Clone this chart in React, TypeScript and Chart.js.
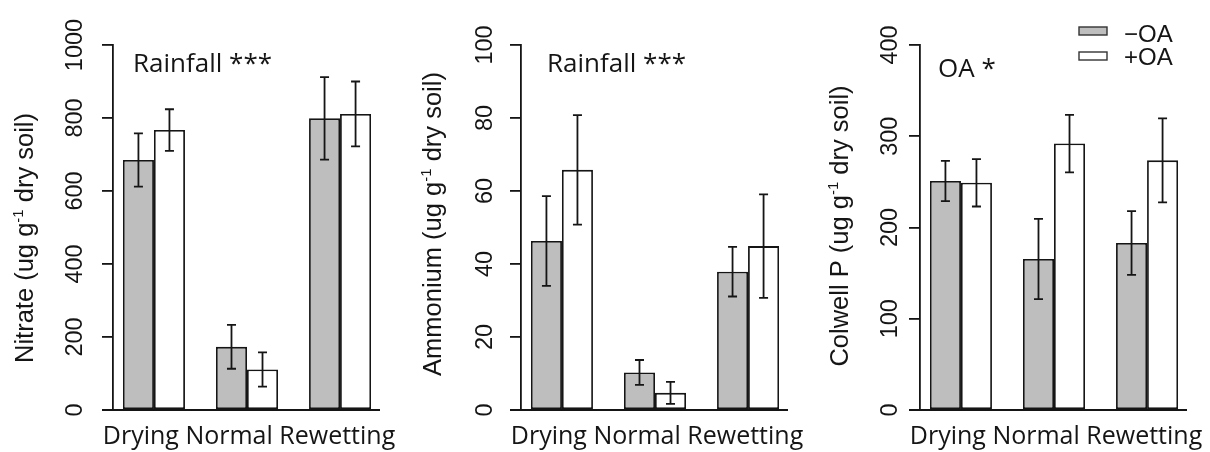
import React, { useEffect, useRef } from "react";
import { Chart, registerables } from "chart.js";

Chart.register(...registerables);

// ---------- data ----------
const categories = ["Drying", "Normal", "Rewetting"];
const seriesLabels = ["\u2212OA", "+OA"];

const nitrateMinusOA = [685, 173, 799];
const nitrateMinusOAErr = [73, 60, 113];
const nitratePlusOA = [767, 111, 811];
const nitratePlusOAErr = [57, 47, 89];

const ammoniumMinusOA = [46.3, 10.3, 37.9];
const ammoniumMinusOAErr = [12.3, 3.4, 6.8];
const ammoniumPlusOA = [65.8, 4.7, 44.9];
const ammoniumPlusOAErr = [15, 3, 14.2];

const colwellMinusOA = [251, 165.5, 183];
const colwellMinusOAErr = [22, 44, 35];
const colwellPlusOA = [249, 292, 273.6];
const colwellPlusOAErr = [26, 31.5, 46];

const yTitles = ["Nitrate", "Ammonium", "Colwell P"];
const unitPre = " (ug g";
const unitSup = "-1";
const unitPost = " dry soil)";
const notes = ["Rainfall ***", "Rainfall ***", "OA *"];
const yMaxes = [1000, 100, 400];
const ySteps = [200, 20, 100];

// ---------- layout / style ----------
const W = 1210;
const H = 452;
const PLOT_TOP = 45;
const PLOT_BOTTOM = 410;
const layouts = [
  { plotLeft: 113, plotRight: 381, tickLabelX: 82, titleX: 33, titleCY: 238, noteX: 133, noteY: 72 },
  { plotLeft: 521, plotRight: 789, tickLabelX: 492, titleX: 441, titleCY: 224, noteX: 547, noteY: 72 },
  { plotLeft: 920, plotRight: 1188, tickLabelX: 897, titleX: 848, titleCY: 226, noteX: 938, noteY: 77 },
];
const INK = "#151515";
const GRAY = "#bebebe";
const LINE_W = 1.8;
const TICK_FONT = '23.5px "Liberation Sans", Arial, sans-serif';
const TITLE_FONT = '25.5px "Liberation Sans", Arial, sans-serif';
const SUP_FONT = '15px "Liberation Sans", Arial, sans-serif';
const CAT_FONT = '25px "Open Sans", sans-serif';
const NOTE_FONT = '26px "Open Sans", sans-serif';
const LEGEND_FONT = '24px "Liberation Sans", Arial, sans-serif';

const panels = [
  { minus: nitrateMinusOA, minusErr: nitrateMinusOAErr, plus: nitratePlusOA, plusErr: nitratePlusOAErr },
  { minus: ammoniumMinusOA, minusErr: ammoniumMinusOAErr, plus: ammoniumPlusOA, plusErr: ammoniumPlusOAErr },
  { minus: colwellMinusOA, minusErr: colwellMinusOAErr, plus: colwellPlusOA, plusErr: colwellPlusOAErr },
];

// R barplot(beside=TRUE) geometry: bars of width 1, one unit gap before each group
const groupCenter = (i: number) => 2 + 3 * i;

function makeDecor(pi: number) {
  const L = layouts[pi];
  return {
    id: "decor" + pi,
    afterDatasetsDraw(chart: any) {
      const ctx = chart.ctx;
      const ys = chart.scales.y;
      const ca = chart.chartArea;
      ctx.save();
      // error bars
      ctx.strokeStyle = INK;
      ctx.lineWidth = LINE_W;
      chart.data.datasets.forEach((ds: any, di: number) => {
        const meta = chart.getDatasetMeta(di);
        meta.data.forEach((bar: any, i: number) => {
          const v = ds.data[i].y;
          const e = ds.errors[i];
          const t = ys.getPixelForValue(v + e);
          const b = ys.getPixelForValue(v - e);
          ctx.beginPath();
          ctx.moveTo(bar.x, t);
          ctx.lineTo(bar.x, b);
          ctx.moveTo(bar.x - 4.5, t);
          ctx.lineTo(bar.x + 4.5, t);
          ctx.moveTo(bar.x - 4.5, b);
          ctx.lineTo(bar.x + 4.5, b);
          ctx.stroke();
        });
      });
      // bottom line
      const y0 = ys.getPixelForValue(0);
      ctx.beginPath();
      ctx.moveTo(ca.left - 11, y0);
      ctx.lineTo(ca.right - 1, y0);
      ctx.stroke();
      ctx.restore();
    },
    afterDraw(chart: any) {
      const ctx = chart.ctx;
      const ys = chart.scales.y;
      const ca = chart.chartArea;
      ctx.save();
      ctx.fillStyle = INK;
      // rotated y tick labels
      ctx.font = TICK_FONT;
      ctx.textAlign = "center";
      ctx.textBaseline = "alphabetic";
      ys.ticks.forEach((t: any) => {
        const py = ys.getPixelForValue(t.value);
        ctx.save();
        ctx.translate(L.tickLabelX, py);
        ctx.rotate(-Math.PI / 2);
        ctx.fillText(String(t.value), 0, 0);
        ctx.restore();
      });
      // y axis title with superscript
      const segs = [
        { text: yTitles[pi] + unitPre, font: TITLE_FONT, raise: 0 },
        { text: unitSup, font: SUP_FONT, raise: 10 },
        { text: unitPost, font: TITLE_FONT, raise: 0 },
      ];
      let total = 0;
      const widths = segs.map((s) => {
        ctx.font = s.font;
        const w = ctx.measureText(s.text).width;
        total += w;
        return w;
      });
      ctx.save();
      ctx.translate(L.titleX, L.titleCY);
      ctx.rotate(-Math.PI / 2);
      ctx.textAlign = "left";
      let x = -total / 2;
      segs.forEach((s, k) => {
        ctx.font = s.font;
        ctx.fillText(s.text, x, -s.raise);
        x += widths[k];
      });
      ctx.restore();
      // category labels
      ctx.font = CAT_FONT;
      ctx.textAlign = "center";
      ctx.fillText(categories.join(" "), (ca.left + ca.right) / 2 + 2, 444);
      // significance note
      ctx.font = NOTE_FONT;
      ctx.textAlign = "left";
      ctx.fillText(notes[pi], L.noteX, L.noteY);
      // legend (last panel)
      if (pi === 2) {
        const fills = [GRAY, "#ffffff"];
        const baselines = [41.5, 65];
        const boxCenters = [31, 56];
        ctx.font = LEGEND_FONT;
        ctx.strokeStyle = "#333";
        ctx.lineWidth = 1.4;
        seriesLabels.forEach((lab, k) => {
          const by = boxCenters[k];
          ctx.fillStyle = fills[k];
          ctx.fillRect(1079, by - 4, 28, 8);
          ctx.strokeRect(1079, by - 4, 28, 8);
          ctx.fillStyle = INK;
          ctx.fillText(lab, 1124, baselines[k]);
        });
      }
      ctx.restore();
    },
  };
}

function makeConfig(pi: number): any {
  const p = panels[pi];
  const L = layouts[pi];
  const barStyle = {
    borderColor: INK,
    borderWidth: LINE_W,
    borderSkipped: false,
  };
  return {
    type: "bar",
    data: {
      datasets: [
        {
          label: seriesLabels[0],
          data: p.minus.map((v, i) => ({ x: groupCenter(i), y: v })),
          errors: p.minusErr,
          backgroundColor: GRAY,
          ...barStyle,
        },
        {
          label: seriesLabels[1],
          data: p.plus.map((v, i) => ({ x: groupCenter(i), y: v })),
          errors: p.plusErr,
          backgroundColor: "#ffffff",
          ...barStyle,
        },
      ],
    },
    options: {
      responsive: false,
      animation: false,
      events: [],
      layout: {
        padding: { left: L.plotLeft, right: W - L.plotRight, top: PLOT_TOP, bottom: H - PLOT_BOTTOM },
      },
      datasets: { bar: { categoryPercentage: 2 / 3, barPercentage: 1 } },
      plugins: { legend: { display: false }, tooltip: { enabled: false } },
      scales: {
        x: {
          type: "linear",
          display: false,
          offset: false,
          min: 0.68,
          max: 9.32,
          grid: { offset: false },
          afterBuildTicks: (s: any) => {
            s.ticks = categories.map((c, i) => ({ value: groupCenter(i), label: c }));
          },
        },
        y: {
          min: 0,
          max: yMaxes[pi],
          ticks: { stepSize: ySteps[pi], display: false },
          grid: { drawOnChartArea: false, drawTicks: true, tickLength: 11, color: INK, lineWidth: LINE_W },
          border: { display: true, color: INK, width: LINE_W },
          afterFit: (s: any) => {
            s.width = 0;
          },
        },
      },
    },
    plugins: [makeDecor(pi)],
  };
}

export default function App() {
  const r0 = useRef<HTMLCanvasElement>(null);
  const r1 = useRef<HTMLCanvasElement>(null);
  const r2 = useRef<HTMLCanvasElement>(null);
  useEffect(() => {
    const refs = [r0, r1, r2];
    const charts = refs.map((r, i) => new Chart(r.current as HTMLCanvasElement, makeConfig(i)));
    return () => charts.forEach((c) => c.destroy());
  }, []);
  const cs: React.CSSProperties = { position: "absolute", left: 0, top: 0, width: W, height: H, display: "block" };
  return (
    <div style={{ position: "absolute", left: 0, top: 0, width: W, height: H, background: "#ffffff" }}>
      <canvas ref={r0} width={W} height={H} style={cs} />
      <canvas ref={r1} width={W} height={H} style={cs} />
      <canvas ref={r2} width={W} height={H} style={cs} />
    </div>
  );
}
